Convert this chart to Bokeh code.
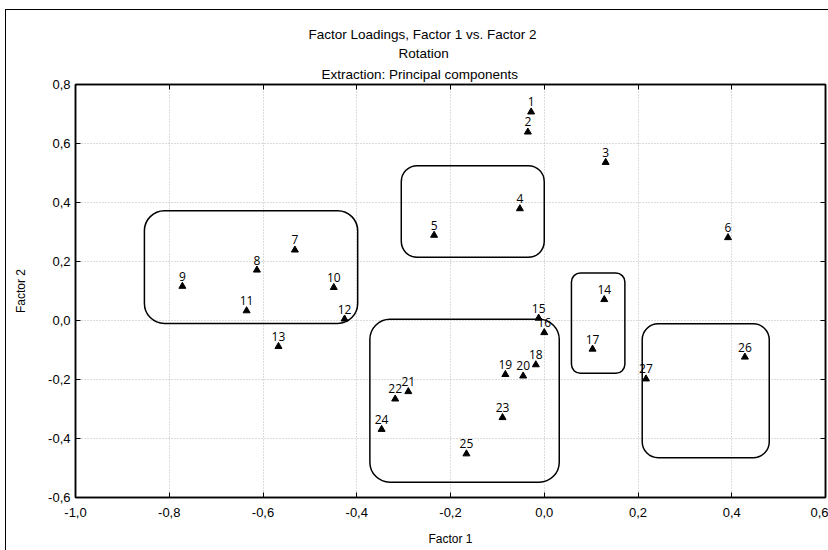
from bokeh.plotting import figure
from bokeh.models import (ColumnDataSource, FixedTicker, CustomJSTickFormatter, LinearAxis,
                          BoxAnnotation, Title, Range1d)
from bokeh.core.properties import value
from bokeh.embed import file_html
from bokeh.resources import INLINE

# ---- data ----
point_labels = [str(i) for i in range(1, 28)]
factor1 = [-0.028, -0.035, 0.131, -0.052, -0.235, 0.392, -0.532, -0.613, -0.772, -0.449,
           -0.635, -0.426, -0.567, 0.128, -0.012, 0.000, 0.103, -0.018, -0.083, -0.045,
           -0.290, -0.318, -0.089, -0.347, -0.166, 0.428, 0.217]
factor2 = [0.707, 0.639, 0.536, 0.379, 0.289, 0.281, 0.239, 0.171, 0.116, 0.112,
           0.033, 0.005, -0.088, 0.071, 0.008, -0.041, -0.097, -0.150, -0.183, -0.188,
           -0.241, -0.266, -0.329, -0.369, -0.452, -0.124, -0.198]

x_ticks = [-1.0, -0.8, -0.6, -0.4, -0.2, 0.0, 0.2, 0.4, 0.6]
y_ticks = [-0.6, -0.4, -0.2, 0.0, 0.2, 0.4, 0.6, 0.8]

# group outlines (factor-space extents)
group_left = [-0.853, -0.305, 0.058, -0.372, 0.209]
group_right = [-0.398, 0.000, 0.172, 0.032, 0.480]
group_bottom = [-0.010, 0.214, -0.179, -0.548, -0.465]
group_top = [0.372, 0.525, 0.161, 0.004, -0.011]
group_radius = [20, 16, 9, 20, 16]

title_lines = ["Factor Loadings, Factor 1 vs. Factor 2", "Rotation",
               "Extraction: Principal components"]

FRAME_W, FRAME_H = 750, 413

p = figure(width=822, height=540, output_backend="svg", toolbar_location=None,
           x_range=Range1d(-1.0, 0.6), y_range=Range1d(-0.6, 0.8),
           frame_width=FRAME_W, frame_height=FRAME_H,
           min_border_left=69, min_border_right=3, min_border_top=74, min_border_bottom=53,
           x_axis_label="Factor 1", y_axis_label="Factor 2")
p.title = None
p.styles = {"margin-left": "5px", "margin-top": "9px",
            "border-left": "1.5px solid black", "border-top": "1.5px solid black"}
p.outline_line_color = "black"
p.outline_line_width = 1.5
p.background_fill_color = "white"
p.border_fill_color = "white"

fmt = CustomJSTickFormatter(code="return tick.toFixed(1).replace('.', ',');")
tick_font = "Liberation Sans"

for ax in (p.xaxis[0], p.yaxis[0]):
    ax.formatter = fmt
    ax.major_tick_in = 5
    ax.major_tick_out = 0
    ax.minor_tick_line_color = None
    ax.axis_line_color = "black"
    ax.axis_line_width = 1.5
    ax.major_label_text_font = tick_font
    ax.major_label_text_font_size = "13px"
    ax.major_label_text_color = "black"
    ax.axis_label_text_font = tick_font
    ax.axis_label_text_font_size = "12px"
    ax.axis_label_text_font_style = "normal"
    ax.axis_label_text_color = "black"
p.xaxis[0].ticker = FixedTicker(ticks=x_ticks)
p.yaxis[0].ticker = FixedTicker(ticks=y_ticks)
p.xaxis[0].major_label_standoff = 10
p.xaxis[0].axis_label_standoff = 12
p.yaxis[0].major_label_standoff = 5
p.yaxis[0].axis_label_standoff = 17

blank = CustomJSTickFormatter(code="return '';")
for side, ticks, so in (("above", x_ticks, 6), ("right", y_ticks, 0)):
    ax = LinearAxis(ticker=FixedTicker(ticks=ticks), formatter=blank,
                    major_tick_in=5, major_tick_out=0, minor_tick_line_color=None,
                    axis_line_color="black", axis_line_width=1.5, major_label_standoff=so)
    p.add_layout(ax, side)

p.xgrid.ticker = FixedTicker(ticks=x_ticks)
p.ygrid.ticker = FixedTicker(ticks=y_ticks)
for g in (p.xgrid[0], p.ygrid[0]):
    g.grid_line_color = "#b8b8b8"
    g.grid_line_dash = "1 2"
    g.grid_line_width = 1

for l, r, b, t, rad in zip(group_left, group_right, group_bottom, group_top, group_radius):
    p.add_layout(BoxAnnotation(left=l, right=r, bottom=b, top=t, fill_alpha=0,
                               fill_color=None, line_color="black", line_alpha=1.0,
                               line_width=1.5, border_radius=rad))

src = ColumnDataSource(dict(x=factor1, y=factor2, lab=point_labels))
p.scatter("x", "y", source=src, marker="triangle", size=7, color="black")
p.text("x", "y", text="lab", source=src, text_align="center", text_baseline="alphabetic",
       y_offset=-10, text_font=value("Open Sans"), text_font_size="12px", text_color="black")

# titles: added from the innermost line outward (left offsets from the frame edge)
title_offsets = [233, 323, 246]
title_standoffs = [2, 3, 5]
for txt, off, so in reversed(list(zip(title_lines, title_offsets, title_standoffs))):
    p.add_layout(Title(text=txt, align="left", offset=off, standoff=so,
                       text_font="Liberation Sans", text_font_size="13.5px",
                       text_font_style="normal", text_color="black"), "above")

open("out.html", "w").write(file_html(p, INLINE))
